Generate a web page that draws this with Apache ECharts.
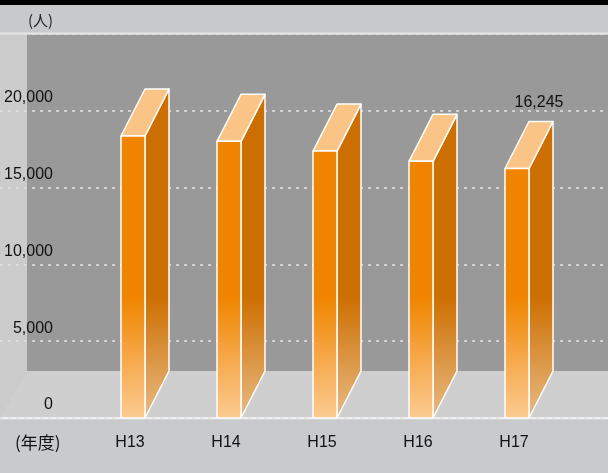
<!DOCTYPE html>
<html><head><meta charset="utf-8">
<script src="https://cdn.jsdelivr.net/npm/echarts@6/dist/echarts.min.js"></script>
<style>html,body{margin:0;padding:0;background:#c9cacc}#c{width:608px;height:473px}</style>
</head><body><div id="c"></div>
<script>
// ---- data ----
const categories = ['H13', 'H14', 'H15', 'H16', 'H17'];
const visitors = [18360, 18010, 17380, 16710, 16245];
const showValue = [false, false, false, false, true];
const yMax = 25000;
const yStep = 5000;
const unitText = '(人)';
const yearText = '(年度)';

const FONT = '"Liberation Sans Narrow", "Arial Narrow", "Liberation Sans", sans-serif';
const CJK = '"Noto Sans CJK JP", sans-serif';

const chart = echarts.init(document.getElementById('c'), null, {renderer: 'canvas'});

function renderItem(params, api) {
  const i = api.value(0), v = api.value(1);
  const top = api.coord([i, v]);
  const base = api.coord([i, 0]);
  const half = 12, dx = 24, dy = -47;
  const xl = top[0] - half, xr = top[0] + half, yt = top[1], yb = base[1];
  const g0 = yb - 122;
  const frontFill = new echarts.graphic.LinearGradient(0, g0, 0, yb, [
    {offset: 0, color: '#f08400'}, {offset: 1, color: '#fccb90'}], true);
  const sideFill = new echarts.graphic.LinearGradient(0, g0, 0, yb, [
    {offset: 0, color: '#cd6e00'}, {offset: 1, color: '#e8bb82'}], true);
  const st = {stroke: '#ffffff', lineWidth: 1.5, lineJoin: 'round'};
  const children = [
    {type: 'polygon', shape: {points: [[xr, yt], [xr + dx, yt + dy], [xr + dx, yb + dy], [xr, yb]]},
     style: Object.assign({fill: sideFill}, st)},
    {type: 'polygon', shape: {points: [[xl, yt], [xr, yt], [xr + dx, yt + dy], [xl + dx, yt + dy]]},
     style: Object.assign({fill: '#f9c485'}, st)},
    {type: 'rect', shape: {x: xl, y: yt, width: xr - xl, height: yb - yt},
     style: Object.assign({fill: frontFill}, st)}
  ];
  if (showValue[params.dataIndex]) {
    children.push({type: 'text', style: {
      text: visitors[params.dataIndex].toLocaleString('en-US'),
      x: xr + 10, y: yt + dy - 19, align: 'center', verticalAlign: 'middle',
      fill: '#111', fontSize: 16, fontFamily: FONT}});
  }
  return {type: 'group', children: children};
}

const bg = [
  {type: 'rect', shape: {x: 0, y: 0, width: 608, height: 5}, style: {fill: '#000'}},
  {type: 'rect', shape: {x: 0, y: 5, width: 608, height: 28}, style: {fill: '#c8c9cb'}},
  {type: 'rect', shape: {x: 0, y: 34, width: 608, height: 384}, style: {fill: '#cfcfcf'}},
  {type: 'polygon', shape: {points: [[0, 34], [27, 34], [27, 371], [0, 418]]}, style: {fill: '#cbcbcb'}},
  {type: 'rect', shape: {x: 27, y: 34.5, width: 581, height: 336.5}, style: {fill: '#999999'}},
  {type: 'rect', shape: {x: 0, y: 32.5, width: 608, height: 2}, style: {fill: '#e8e8e8'}},
  {type: 'rect', shape: {x: 0, y: 417, width: 608, height: 2.5}, style: {fill: '#f0f0f0'}},
  {type: 'rect', shape: {x: 0, y: 419.5, width: 608, height: 54}, style: {fill: '#c9cacc'}}
].map(e => Object.assign({z: -100, silent: true}, e));

const texts = [
  {type: 'text', style: {text: unitText, x: 28, y: 20, verticalAlign: 'middle', fill: '#222', fontSize: 15, fontFamily: CJK}},
  {type: 'text', style: {text: yearText, x: 15, y: 443, verticalAlign: 'middle', fill: '#111', fontSize: 17, fontFamily: CJK}}
];

chart.setOption({
  animation: false,
  backgroundColor: '#c9cacc',
  graphic: {elements: bg.concat(texts)},
  grid: [
    {left: 0, width: 608, top: 34, height: 384},
    {left: 85, width: 480, top: 34, height: 384}
  ],
  xAxis: [
    {type: 'value', gridIndex: 0, show: false, min: 0, max: 1},
    {type: 'category', gridIndex: 1, data: categories,
     axisLine: {show: false}, axisTick: {show: false},
     axisLabel: {color: '#111', fontSize: 16, fontFamily: FONT, margin: 17, padding: [0, 6, 0, 0]}}
  ],
  yAxis: [
    {type: 'value', gridIndex: 0, min: 0, max: yMax, interval: yStep,
     axisLine: {show: false}, axisTick: {show: false}, axisLabel: {show: false},
     splitLine: {show: true, lineStyle: {color: '#e2e2e2', width: 1.5, type: [3, 5]}}},
    {type: 'value', gridIndex: 1, min: 0, max: yMax, interval: yStep,
     axisLine: {show: false}, axisTick: {show: false}, splitLine: {show: false},
     axisLabel: {color: '#111', fontSize: 16, fontFamily: FONT, margin: 32, showMaxLabel: false,
       verticalAlign: 'bottom', padding: [0, 0, 5, 0],
       formatter: v => v.toLocaleString('en-US')}}
  ],
  series: [{
    type: 'custom', xAxisIndex: 1, yAxisIndex: 1,
    renderItem: renderItem,
    data: categories.map((c, i) => [i, visitors[i]]),
    encode: {x: 0, y: 1}
  }]
});
</script></body></html>
